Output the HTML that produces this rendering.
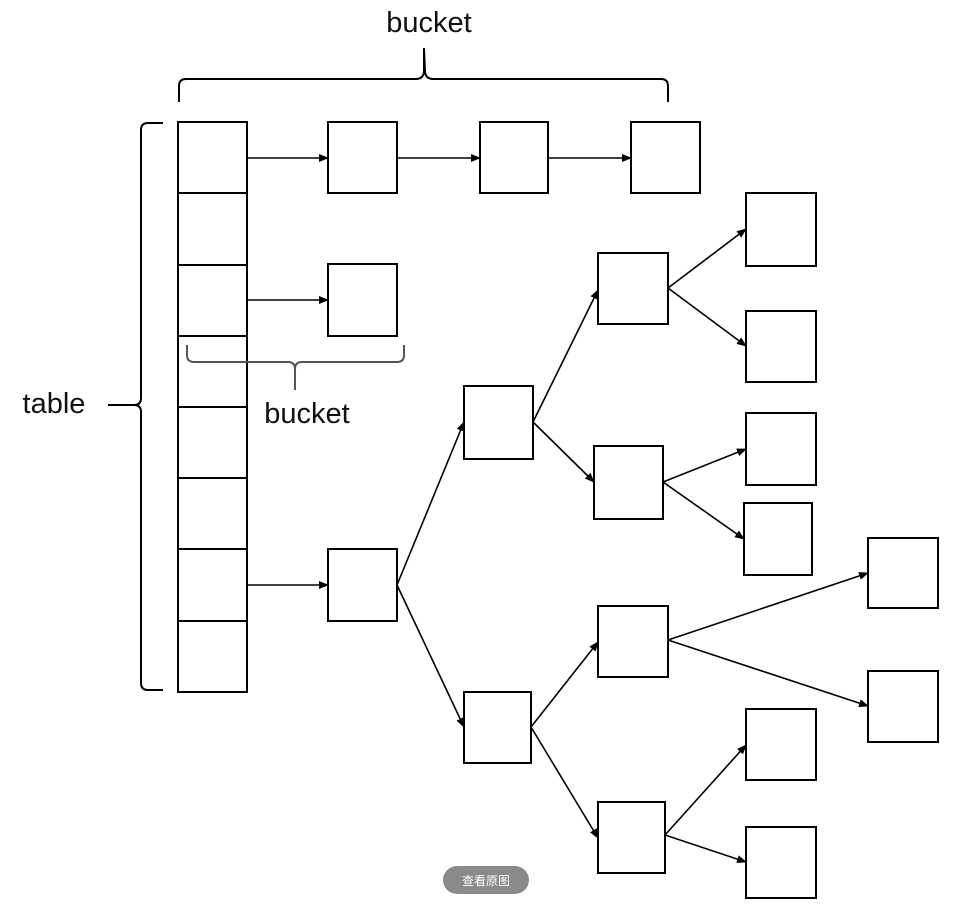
<!DOCTYPE html>
<html><head><meta charset="utf-8"><style>
html,body{margin:0;padding:0;background:#fff;width:968px;height:904px;overflow:hidden}
svg{display:block}
</style></head><body>
<svg width="968" height="904" viewBox="0 0 968 904" xmlns="http://www.w3.org/2000/svg">
<defs><marker id="a" markerWidth="10" markerHeight="8" refX="9" refY="4" orient="auto" markerUnits="userSpaceOnUse"><path d="M0,0 L10,4 L0,8 z" fill="#000"/></marker></defs>
<g fill="none" stroke="#000" stroke-width="2">
<!-- table -->
<rect x="178" y="122" width="69" height="570"/>
<line x1="178" y1="193" x2="247" y2="193"/><line x1="178" y1="265" x2="247" y2="265"/>
<line x1="178" y1="336" x2="247" y2="336"/><line x1="178" y1="407" x2="247" y2="407"/>
<line x1="178" y1="478" x2="247" y2="478"/><line x1="178" y1="549" x2="247" y2="549"/>
<line x1="178" y1="621" x2="247" y2="621"/>
<!-- boxes -->
<rect x="328" y="122" width="69" height="71"/><rect x="480" y="122" width="68" height="71"/><rect x="631" y="122" width="69" height="71"/>
<rect x="328" y="264" width="69" height="72"/><rect x="328" y="549" width="69" height="72"/>
<rect x="464" y="386" width="69" height="73"/><rect x="598" y="253" width="70" height="71"/>
<rect x="746" y="193" width="70" height="73"/><rect x="746" y="311" width="70" height="71"/>
<rect x="594" y="446" width="69" height="73"/><rect x="746" y="413" width="70" height="72"/><rect x="744" y="503" width="68" height="72"/>
<rect x="464" y="692" width="67" height="71"/><rect x="598" y="606" width="70" height="71"/>
<rect x="868" y="538" width="70" height="70"/><rect x="868" y="671" width="70" height="71"/>
<rect x="598" y="802" width="67" height="71"/><rect x="746" y="709" width="70" height="71"/><rect x="746" y="827" width="70" height="71"/>
</g>
<g stroke="#000" stroke-width="1.6" marker-end="url(#a)">
<line x1="247" y1="158" x2="328" y2="158"/><line x1="397" y1="158" x2="480" y2="158"/><line x1="548" y1="158" x2="631" y2="158"/>
<line x1="247" y1="300" x2="328" y2="300"/><line x1="247" y1="585" x2="328" y2="585"/>
<line x1="397" y1="585" x2="464" y2="422"/><line x1="397" y1="585" x2="464" y2="727"/>
<line x1="533" y1="422" x2="598" y2="290"/><line x1="533" y1="422" x2="594" y2="482"/>
<line x1="668" y1="288" x2="746" y2="229"/><line x1="668" y1="288" x2="746" y2="346"/>
<line x1="663" y1="482" x2="746" y2="449"/><line x1="663" y1="482" x2="744" y2="539"/>
<line x1="531" y1="727" x2="598" y2="642"/><line x1="531" y1="727" x2="598" y2="838"/>
<line x1="668" y1="640" x2="868" y2="573"/><line x1="668" y1="640" x2="868" y2="706"/>
<line x1="665" y1="835" x2="746" y2="745"/><line x1="665" y1="835" x2="746" y2="862"/>
</g>
<!-- braces -->
<g fill="none" stroke="#000" stroke-width="2">
<path d="M179,102 L179,86 Q179,79 186,79 L416,79 Q423,79 424,72 L424,48 M424,48 L425,72 Q426,79 433,79 L661,79 Q668,79 668,86 L668,102"/>
<path d="M163,123 L148,123 Q141,123 141,130 L141,398 Q141,405 134,405 L108,405 M134,405 Q141,405 141,412 L141,683 Q141,690 148,690 L163,690"/>
</g>
<path d="M187,345 L187,355 Q187,362 194,362 L288,362 Q295,362 295,369 L295,390 M295,369 Q295,362 302,362 L397,362 Q404,362 404,355 L404,345" fill="none" stroke="#555" stroke-width="2"/>
<g font-family="Liberation Sans, sans-serif" font-size="29" fill="#111">
<text x="429" y="32" text-anchor="middle">bucket</text>
<text x="307" y="423" text-anchor="middle">bucket</text>
<text x="54" y="413" text-anchor="middle">table</text>
</g>
<rect x="443" y="866" width="86" height="28" rx="14" fill="#8a8a8a"/>
<text x="486" y="885" text-anchor="middle" font-family="Liberation Sans, Noto Sans CJK SC, sans-serif" font-size="12" fill="#fff">查看原图</text>
</svg>
</body></html>
